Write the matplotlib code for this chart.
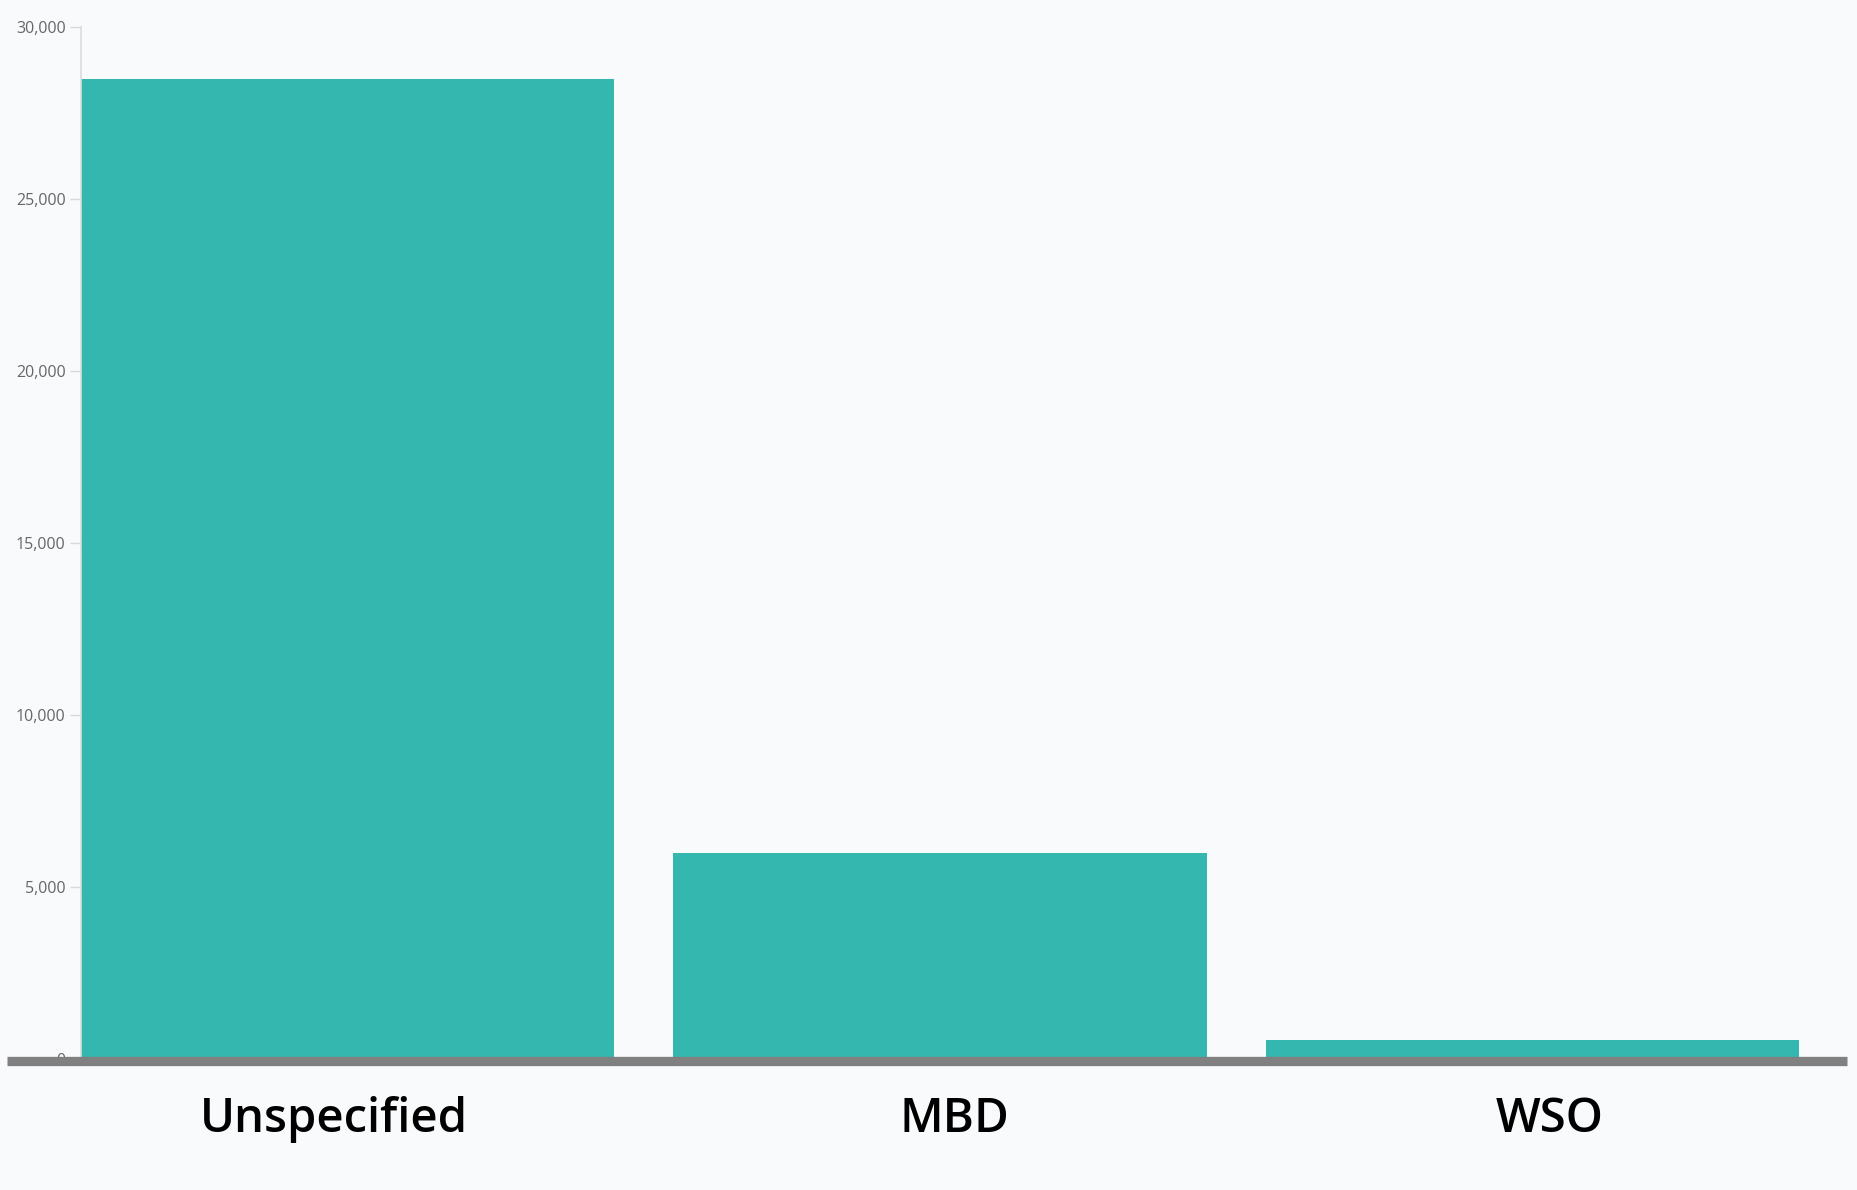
import matplotlib
matplotlib.use("Agg")
import matplotlib.pyplot as plt
from matplotlib.lines import Line2D
from matplotlib.ticker import FuncFormatter
from matplotlib.transforms import ScaledTranslation

categories = ["Unspecified", "MBD", "WSO"]
values = [28480, 5970, 540]
yticks = [0, 5000, 10000, 15000, 20000, 25000, 30000]

bg = "#f9fafc"
bar_color = "#33b7af"

fig = plt.figure(figsize=(18.58, 11.90), dpi=100, facecolor=bg)
ax = fig.add_axes([81/1858, 131.3/1190, (1799-81)/1858, (1163.3-131.3)/1190])
ax.set_facecolor(bg)

x = list(range(len(categories)))
ax.bar(x, values, width=0.9, color=bar_color, edgecolor="none", zorder=2)

ax.set_xlim(-0.45, len(categories) - 0.55)
ax.set_ylim(0, 30000)
ax.set_yticks(yticks)
ax.yaxis.set_major_formatter(FuncFormatter(lambda v, p: f"{int(v):,}"))
ax.tick_params(axis="y", length=8, width=1, color="#d9d9d9", labelcolor="#666666",
               labelsize=11.5, pad=3)
for lab in ax.get_yticklabels():
    lab.set_family(["Open Sans", "DejaVu Sans"])

ax.set_xticks(x)
ax.set_xticklabels(categories)
ax.tick_params(axis="x", length=0, pad=27, labelsize=34, labelcolor="#000000")
label_shift_px = [-14, 14, 17]
for lab, dx in zip(ax.get_xticklabels(), label_shift_px):
    lab.set_family(["Open Sans", "DejaVu Sans"])
    lab.set_fontweight("semibold")
    lab.set_transform(lab.get_transform() + ScaledTranslation(dx / 100, 0, fig.dpi_scale_trans))

for s in ["top", "right", "bottom"]:
    ax.spines[s].set_visible(False)
ax.spines["left"].set_color("#dcdcdc")
ax.spines["left"].set_linewidth(1.2)

# heavy grey baseline spanning the figure width
yb = 1 - 1061.0 / 1190
fig.add_artist(Line2D([7/1858, 1847/1858], [yb, yb], transform=fig.transFigure,
                      color="#808080", linewidth=6.7, solid_capstyle="butt", zorder=10))

fig.savefig("out.png", dpi=100, facecolor=bg)
